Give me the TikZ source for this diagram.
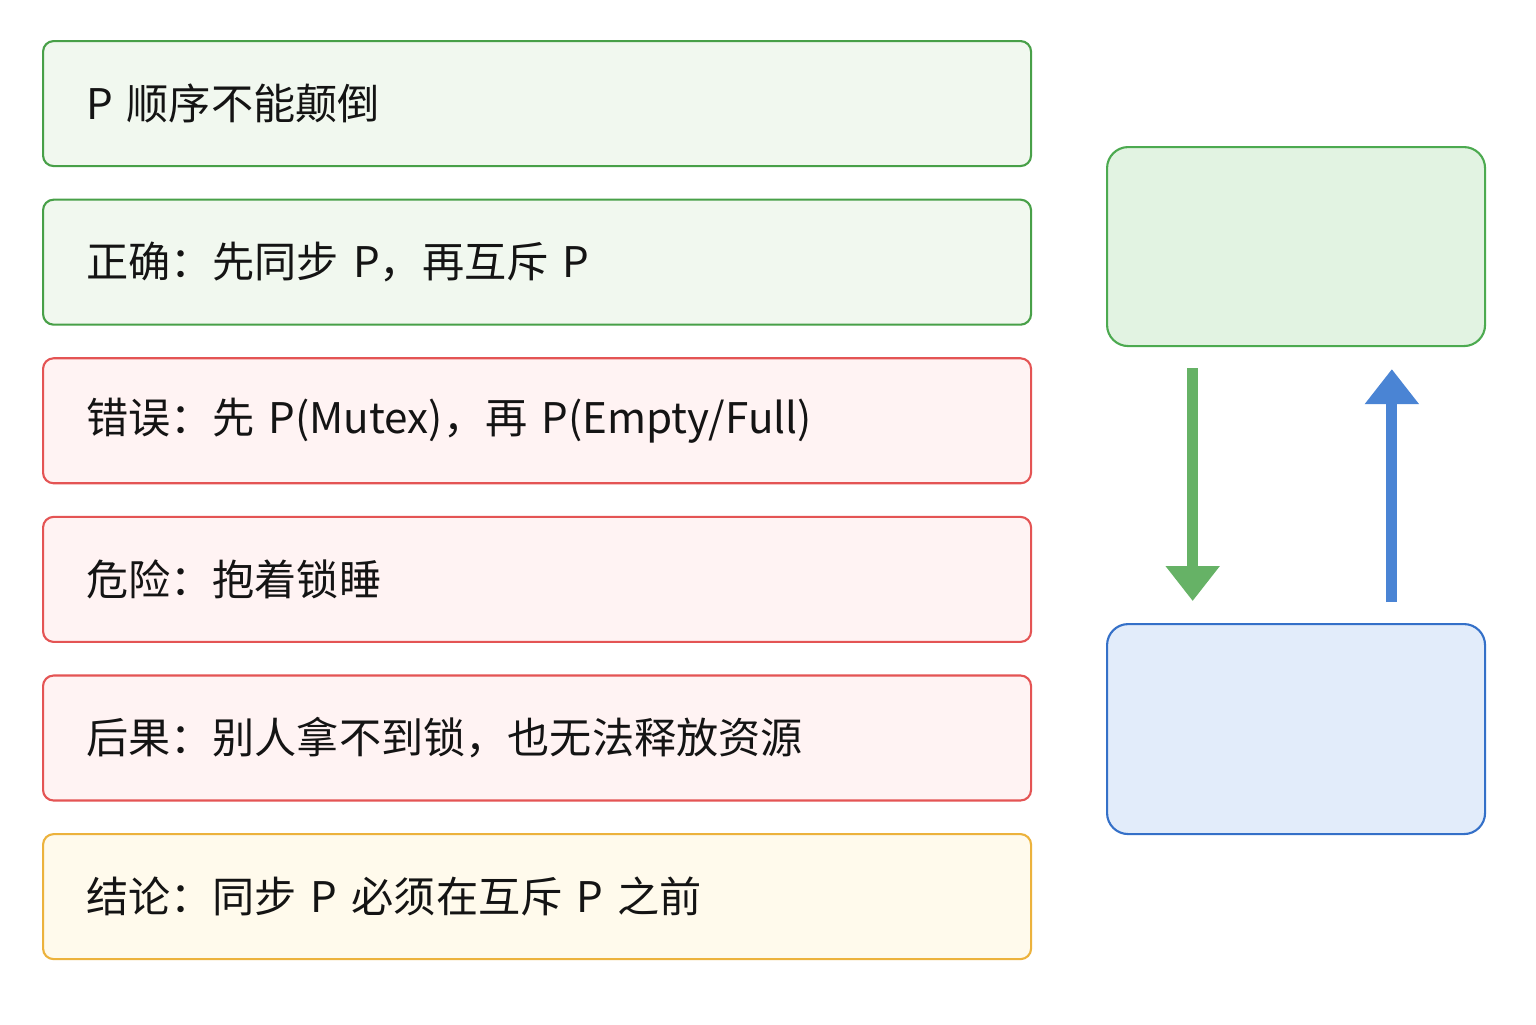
\documentclass[tikz,border=0pt]{standalone}
\usepackage{fontspec}
\newfontfamily\cjk{Noto Sans CJK SC}
\usetikzlibrary{positioning, arrows.meta, calc}
\definecolor{okline}{RGB}{72, 160, 72}
\definecolor{okfill}{RGB}{241, 248, 239}
\definecolor{badline}{RGB}{228, 84, 84}
\definecolor{badfill}{RGB}{255, 243, 243}
\definecolor{noteline}{RGB}{236, 178, 60}
\definecolor{notefill}{RGB}{255, 250, 236}
\definecolor{syncline}{RGB}{76, 170, 80}
\definecolor{syncfill}{RGB}{226, 243, 226}
\definecolor{mutexline}{RGB}{52, 112, 200}
\definecolor{mutexfill}{RGB}{226, 236, 250}
\definecolor{downgreen}{RGB}{102, 178, 102}
\definecolor{upblue}{RGB}{74, 132, 212}
\definecolor{bodytext}{RGB}{20, 20, 20}

\tikzset{
    rowbox/.style={draw, line width=1.2pt, rounded corners=6pt, minimum height=2.5cm,
        text width=18.04cm, inner xsep=0.86cm, align=left, text=bodytext,
        font=\cjk\fontsize{24}{28}\selectfont},
    okrow/.style={rowbox, draw=okline, fill=okfill},
    badrow/.style={rowbox, draw=badline, fill=badfill},
    noterow/.style={rowbox, draw=noteline, fill=notefill},
    sidebox/.style={draw, line width=1.2pt, rounded corners=12pt, minimum width=7.56cm},
    bigarrow/.style={line width=0.22cm, -{Triangle[width=1.04cm, length=0.7cm]},
        shorten <=0.42cm, shorten >=0.44cm}
}

\begin{document}
\begin{tikzpicture}[node distance=0.63cm]
    \fill[white] (0,0) rectangle (30.72,-20.48);
    \useasboundingbox (0,0) rectangle (30.72,-20.48);

    % left column
    \node[okrow, anchor=north west] (order) at (0.84,-0.8) {P 顺序不能颠倒};
    \node[okrow, below=of order] (right) {正确：先同步 P，再互斥 P};
    \node[badrow, below=of right] (wrong) {错误：先 P(Mutex)，再 P(Empty/Full)};
    \node[badrow, below=of wrong] (danger) {危险：抱着锁睡};
    \node[badrow, below=of danger] (result) {后果：别人拿不到锁，也无法释放资源};
    \node[noterow, below=of result] (concl) {结论：同步 P 必须在互斥 P 之前};

    % right column
    \node[sidebox, draw=syncline, fill=syncfill, minimum height=3.98cm, anchor=north west] (sync) at (22.12,-2.92) {};
    \node[sidebox, draw=mutexline, fill=mutexfill, minimum height=4.2cm, anchor=north west] (mutex) at (22.12,-12.46) {};

    \draw[bigarrow, downgreen] ($(sync.south west)!0.228!(sync.south east)$) -- ($(mutex.north west)!0.228!(mutex.north east)$);
    \draw[bigarrow, upblue] ($(mutex.north west)!0.752!(mutex.north east)$) -- ($(sync.south west)!0.752!(sync.south east)$);
\end{tikzpicture}
\end{document}
